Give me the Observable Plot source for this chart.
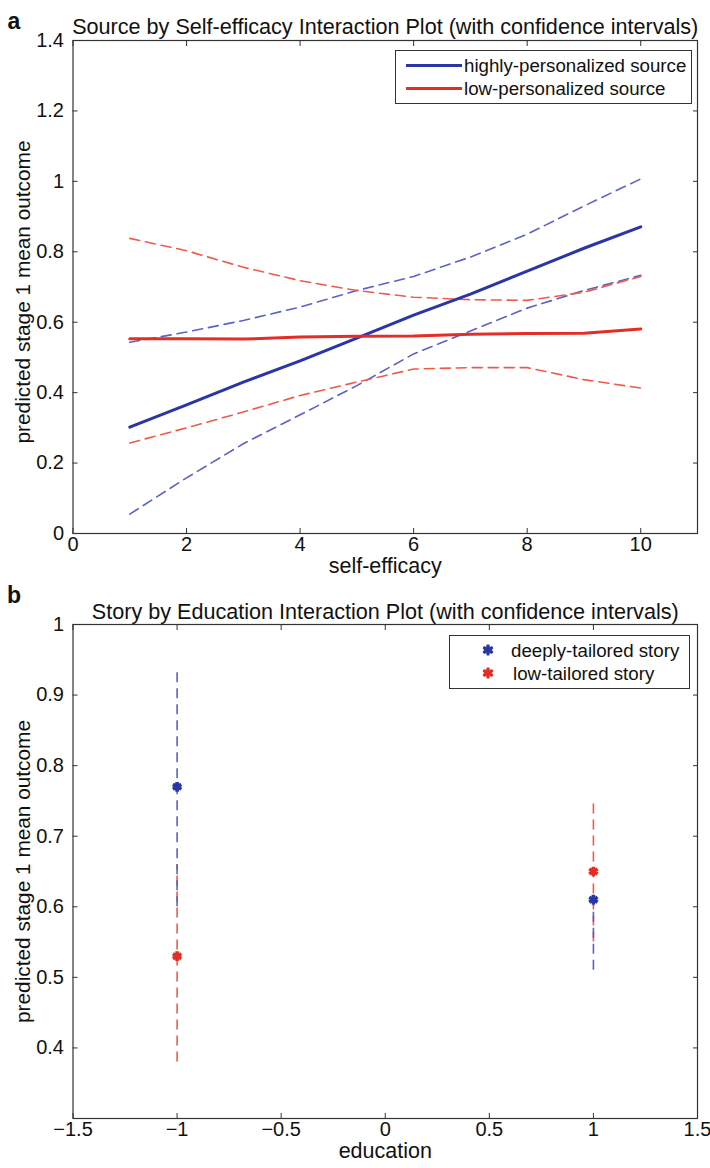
<!DOCTYPE html>
<html><head><meta charset="utf-8">
<script src="https://cdn.jsdelivr.net/npm/d3@7"></script>
<script src="https://cdn.jsdelivr.net/npm/@observablehq/plot@0.6"></script>
<style>
body{margin:0;background:#fff;}
#wrap{position:relative;width:710px;height:1168px;overflow:hidden;font-family:"Liberation Sans",Arial,Helvetica,sans-serif;color:#111;}
.panel{position:absolute;left:0;}
.legend{position:absolute;background:#fff;border:1px solid #333;font-size:18.7px;line-height:23px;box-sizing:border-box;}
.row{position:relative;height:23px;white-space:nowrap;}
.sw{position:absolute;top:10px;height:3px;}
.lbl{position:absolute;top:0;}
.star{position:absolute;}
</style></head>
<body><div id="wrap"></div>
<script>
// ---------- Panel a data ----------
const selfEfficacy = [1, 2, 3, 4, 5, 6, 7, 8, 9, 10];
const highMean  = [0.302, 0.365, 0.430, 0.490, 0.555, 0.620, 0.680, 0.745, 0.810, 0.871];
const highUpper = [0.543, 0.572, 0.605, 0.643, 0.690, 0.730, 0.785, 0.850, 0.930, 1.007];
const highLower = [0.055, 0.158, 0.255, 0.337, 0.420, 0.510, 0.575, 0.640, 0.690, 0.733];
const lowMean   = [0.553, 0.553, 0.552, 0.558, 0.560, 0.561, 0.566, 0.568, 0.569, 0.581];
const lowUpper  = [0.838, 0.803, 0.756, 0.718, 0.690, 0.671, 0.664, 0.662, 0.685, 0.730];
const lowLower  = [0.257, 0.300, 0.345, 0.392, 0.430, 0.467, 0.471, 0.471, 0.437, 0.413];
const xTicksA = [0, 2, 4, 6, 8, 10];
const yTicksA = [0, 0.2, 0.4, 0.6, 0.8, 1, 1.2, 1.4];
const seriesA = ["highly-personalized source", "low-personalized source"];

// ---------- Panel b data ----------
const education = [-1, 1];
const deepMean = [0.77, 0.61];
const deepLo   = [0.60, 0.51];
const deepHi   = [0.94, 0.71];
const lowMeanB = [0.53, 0.65];
const lowLoB   = [0.38, 0.55];
const lowHiB   = [0.66, 0.75];
const xTicksB = [-1.5, -1, -0.5, 0, 0.5, 1, 1.5];
const yTicksB = [0.4, 0.5, 0.6, 0.7, 0.8, 0.9, 1];
const seriesB = ["deeply-tailored story", "low-tailored story"];

const FONT = '"Liberation Sans", Arial, Helvetica, sans-serif';
const BLUE = "#2a36a6", RED = "#e42d25";
const BLUE_D = "#5b62c9", RED_D = "#ef5a4a";
const DASH = "10,6";
const fmt = d => (d < 0 ? "\u2212" : "") + String(+Math.abs(d).toFixed(2));

function axes(xt, yt) {
  return [
    Plot.axisX({anchor: "bottom", ticks: xt, tickSize: -5, tickFormat: () => "", label: null, stroke: "#333"}),
    Plot.axisX({anchor: "top", ticks: xt, tickSize: -5, tickFormat: () => "", label: null, stroke: "#333"}),
    Plot.axisY({anchor: "left", ticks: yt, tickSize: -5, tickFormat: () => "", label: null, stroke: "#333"}),
    Plot.axisY({anchor: "right", ticks: yt, tickSize: -5, tickFormat: () => "", label: null, stroke: "#333"}),
    Plot.axisX({anchor: "bottom", ticks: xt, tickSize: 0, tickPadding: 3, tickFormat: fmt, label: null, fontSize: 20, fill: "#111"}),
    Plot.axisY({anchor: "left", ticks: yt, tickSize: 0, tickPadding: 9, tickFormat: fmt, label: null, fontSize: 20, fill: "#111"}),
    Plot.frame({stroke: "#333", strokeWidth: 1.2})
  ];
}

const wrap = document.getElementById("wrap");

// ---------- Panel a ----------
const rowsA = selfEfficacy.map((x, i) => ({x, hm: highMean[i], hu: highUpper[i], hl: highLower[i], lm: lowMean[i], lu: lowUpper[i], ll: lowLower[i]}));
const plotA = Plot.plot({
  width: 710, height: 584,
  marginLeft: 72.5, marginRight: 13, marginTop: 40, marginBottom: 51,
  style: {fontFamily: FONT, background: "transparent", color: "#111"},
  x: {domain: [0, 11]},
  y: {domain: [0, 1.4]},
  marks: [
    Plot.line(rowsA, {x: "x", y: "hu", stroke: BLUE_D, strokeWidth: 1.6, strokeDasharray: DASH}),
    Plot.line(rowsA, {x: "x", y: "hl", stroke: BLUE_D, strokeWidth: 1.6, strokeDasharray: DASH}),
    Plot.line(rowsA, {x: "x", y: "lu", stroke: RED_D, strokeWidth: 1.6, strokeDasharray: DASH}),
    Plot.line(rowsA, {x: "x", y: "ll", stroke: RED_D, strokeWidth: 1.6, strokeDasharray: DASH}),
    Plot.line(rowsA, {x: "x", y: "hm", stroke: BLUE, strokeWidth: 3}),
    Plot.line(rowsA, {x: "x", y: "lm", stroke: RED, strokeWidth: 3}),
    ...axes(xTicksA, yTicksA),
    Plot.text(["Source by Self-efficacy Interaction Plot (with confidence intervals)"], {text: d => d, frameAnchor: "top", dy: -22, fontSize: 21.6, fill: "#111"}),
    Plot.text(["a"], {text: d => d, frameAnchor: "top-left", dx: -59, dy: -28, textAnchor: "middle", fontSize: 23, fontWeight: "bold", fill: "#111"}),
    Plot.text(["self-efficacy"], {text: d => d, frameAnchor: "bottom", dy: 39, fontSize: 21.5, fill: "#111"}),
    Plot.text(["predicted stage 1 mean outcome"], {text: d => d, frameAnchor: "left", dx: -50, dy: 5, rotate: -90, textAnchor: "middle", fontSize: 20.8, fill: "#111"})
  ]
});
plotA.classList.add("panel");
plotA.style.top = "0px";
wrap.appendChild(plotA);

// ---------- Panel b ----------
const deepRows = education.map((x, i) => ({x, s: seriesB[0], m: deepMean[i], lo: deepLo[i], hi: deepHi[i]}));
const lowRows = education.map((x, i) => ({x, s: seriesB[1], m: lowMeanB[i], lo: lowLoB[i], hi: lowHiB[i]}));
const plotB = Plot.plot({
  width: 710, height: 604,
  marginLeft: 72.5, marginRight: 13, marginTop: 60, marginBottom: 50,
  style: {fontFamily: FONT, background: "transparent", color: "#111"},
  x: {domain: [-1.5, 1.5]},
  y: {domain: [0.3, 1]},
  marks: [
    Plot.ruleX(lowRows, {x: "x", y1: "lo", y2: "hi", stroke: RED_D, strokeWidth: 1.6, strokeDasharray: DASH}),
    Plot.ruleX(deepRows.filter(d => d.x < 0), {x: "x", y1: "lo", y2: "hi", stroke: BLUE_D, strokeWidth: 1.6, strokeDasharray: DASH}),
    Plot.ruleX(deepRows.filter(d => d.x > 0), {x: "x", y1: "lo", y2: "m", stroke: BLUE_D, strokeWidth: 1.6, strokeDasharray: DASH}),
    Plot.dot(deepRows, {x: "x", y: "m", symbol: "asterisk", r: 4.6, stroke: BLUE, strokeWidth: 3.6}),
    Plot.dot(lowRows, {x: "x", y: "m", symbol: "asterisk", r: 4.6, stroke: RED, strokeWidth: 3.6}),
    ...axes(xTicksB, yTicksB),
    Plot.text(["Story by Education Interaction Plot (with confidence intervals)"], {text: d => d, frameAnchor: "top", dy: -21, fontSize: 21.6, fill: "#111"}),
    Plot.text(["b"], {text: d => d, frameAnchor: "top-left", dx: -59, dy: -38, textAnchor: "middle", fontSize: 23, fontWeight: "bold", fill: "#111"}),
    Plot.text(["education"], {text: d => d, frameAnchor: "bottom", dy: 39, fontSize: 21.5, fill: "#111"}),
    Plot.text(["predicted stage 1 mean outcome"], {text: d => d, frameAnchor: "left", dx: -50, rotate: -90, textAnchor: "middle", fontSize: 20.8, fill: "#111"})
  ]
});
plotB.classList.add("panel");
plotB.style.top = "564px";
wrap.appendChild(plotB);

// ---------- Legends ----------
function legendLines(left, top, width, names, colors) {
  const box = document.createElement("div");
  box.className = "legend";
  Object.assign(box.style, {left: left + "px", top: top + "px", width: width + "px", padding: "3px 0"});
  names.forEach((n, i) => {
    const r = document.createElement("div"); r.className = "row";
    const sw = document.createElement("div"); sw.className = "sw";
    Object.assign(sw.style, {left: "10px", width: "56px", background: colors[i]});
    const t = document.createElement("div"); t.className = "lbl"; t.textContent = n;
    t.style.left = "68px";
    r.appendChild(sw); r.appendChild(t); box.appendChild(r);
  });
  wrap.appendChild(box);
}
function legendStars(left, top, width, height, names, colors) {
  const box = document.createElement("div");
  box.className = "legend";
  Object.assign(box.style, {left: left + "px", top: top + "px", width: width + "px", height: height + "px", padding: "3px 0"});
  names.forEach((n, i) => {
    const r = document.createElement("div"); r.className = "row"; r.style.height = "23px";
    const st = document.createElementNS("http://www.w3.org/2000/svg", "svg");
    st.setAttribute("width", "14"); st.setAttribute("height", "14");
    st.setAttribute("class", "star");
    st.style.left = "31px"; st.style.top = "4px";
    st.innerHTML = `<g stroke="${colors[i]}" stroke-width="3.4" stroke-linecap="round"><line x1="7" y1="3" x2="7" y2="11"/><line x1="3.5" y1="5" x2="10.5" y2="9"/><line x1="3.5" y1="9" x2="10.5" y2="5"/></g>`;
    const t = document.createElement("div"); t.className = "lbl"; t.textContent = n;
    t.style.left = (i === 0 ? 61 : 63) + "px";
    r.appendChild(st); r.appendChild(t); box.appendChild(r);
  });
  wrap.appendChild(box);
}
legendLines(395, 50, 297, seriesA, [BLUE, RED]);
legendStars(449, 635, 241, 54, seriesB, [BLUE, RED]);
</script>
</body></html>
